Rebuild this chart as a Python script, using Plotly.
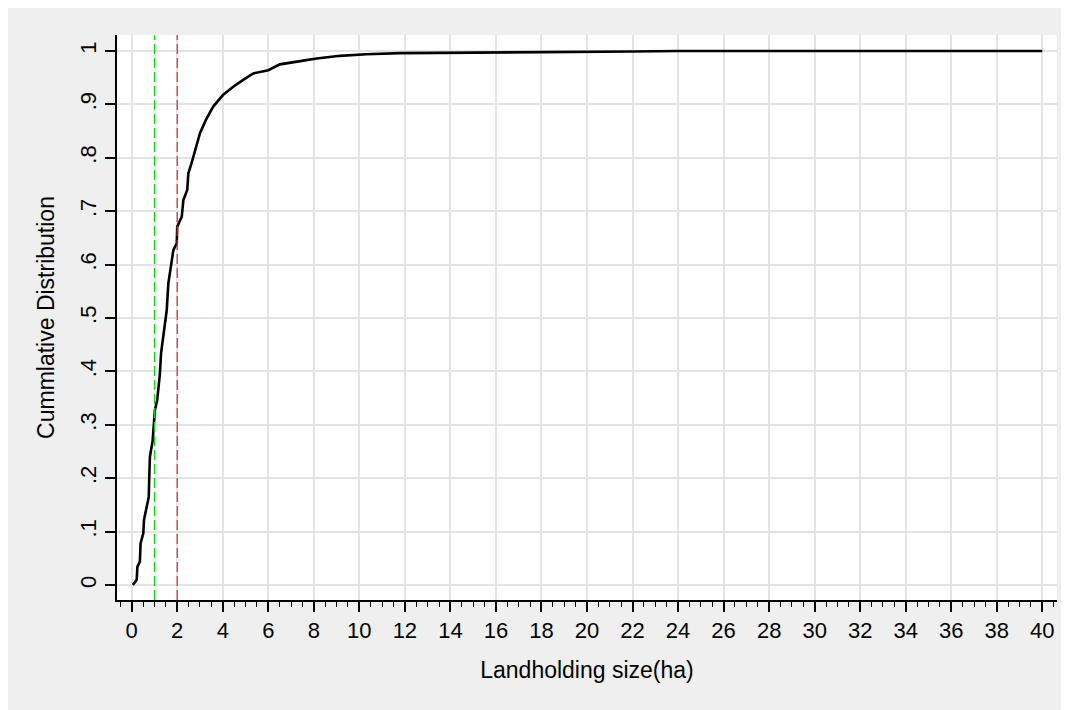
import plotly.graph_objects as go

# ECDF of landholding size
land_size = [0.05, 0.12, 0.22, 0.25, 0.36, 0.39, 0.51, 0.54, 0.63, 0.75, 0.77, 0.80,
             0.92, 0.98, 1.02, 1.12, 1.17, 1.24, 1.29, 1.39, 1.46, 1.54, 1.61, 1.73,
             1.83, 1.98, 2.00, 2.20, 2.27, 2.44, 2.49, 2.63, 2.85, 3.00, 3.26, 3.58,
             4.02, 4.46, 4.90, 5.34, 6.00, 6.51, 7.54, 8.12, 9.15, 10.3, 11.8, 14.0,
             18.0, 22.0, 24.0, 40.0]
cum_dist = [0.0, 0.004, 0.010, 0.034, 0.044, 0.078, 0.097, 0.122, 0.140, 0.165, 0.200, 0.240,
            0.270, 0.315, 0.328, 0.346, 0.365, 0.396, 0.434, 0.465, 0.484, 0.515, 0.565, 0.596,
            0.627, 0.640, 0.671, 0.690, 0.721, 0.740, 0.771, 0.790, 0.821, 0.846, 0.871, 0.896,
            0.918, 0.933, 0.946, 0.958, 0.964, 0.975, 0.982, 0.986, 0.991, 0.994, 0.996, 0.997,
            0.998, 0.999, 1.0, 1.0]

ref_x = [1, 2]
ref_colors = ["#00e000", "#d42a2a"]

x_ticks = list(range(0, 41, 2))
y_ticks = [0, 0.1, 0.2, 0.3, 0.4, 0.5, 0.6, 0.7, 0.8, 0.9, 1.0]
y_ticktext = ["0", ".1", ".2", ".3", ".4", ".5", ".6", ".7", ".8", ".9", "1"]

fig = go.Figure()
fig.add_trace(go.Scatter(x=land_size, y=cum_dist, mode="lines",
                         line=dict(color="black", width=2.6), showlegend=False,
                         hoverinfo="skip"))

for xv, col in zip(ref_x, ref_colors):
    fig.add_shape(type="line", xref="x", yref="paper", x0=xv, x1=xv, y0=0, y1=1,
                  line=dict(color=col, width=1.2, dash="10px,4px"), layer="above")

font_family = "Liberation Sans, Arial, sans-serif"
fig.update_layout(
    width=1069, height=710,
    margin=dict(l=109, r=20, t=27, b=118),
    paper_bgcolor="#efefef", plot_bgcolor="white",
    font=dict(family=font_family, size=22, color="black"),
    xaxis=dict(
        range=[-0.645, 40.645], tickvals=x_ticks, ticktext=[str(v) for v in x_ticks],
        ticks="outside", ticklen=10, tickwidth=1.5, tickcolor="black",
        showline=True, linecolor="black", linewidth=1.5,
        showgrid=True, gridcolor="#e4e4e4", gridwidth=1.7, zeroline=False,
        minor=dict(dtick=0.5, tick0=0, ticks="outside", ticklen=5, tickwidth=1.2,
                   tickcolor="black", showgrid=False),
        tickfont=dict(size=22),
        title=dict(text="Landholding size(ha)", font=dict(size=23), standoff=20),
    ),
    yaxis=dict(
        range=[-0.028, 1.03], tickvals=y_ticks, ticktext=y_ticktext, tickangle=-90,
        ticks="outside", ticklen=10, tickwidth=1.5, tickcolor="black",
        showline=True, linecolor="black", linewidth=1.5,
        showgrid=True, gridcolor="#e4e4e4", gridwidth=1.7, zeroline=False,
        tickfont=dict(size=22),
        title=dict(text="Cummlative Distribution", font=dict(size=23), standoff=15),
    ),
)

fig.write_html("out.html",
               post_script="document.body.style.overflow='hidden';"
                           "document.documentElement.style.overflow='hidden';")
